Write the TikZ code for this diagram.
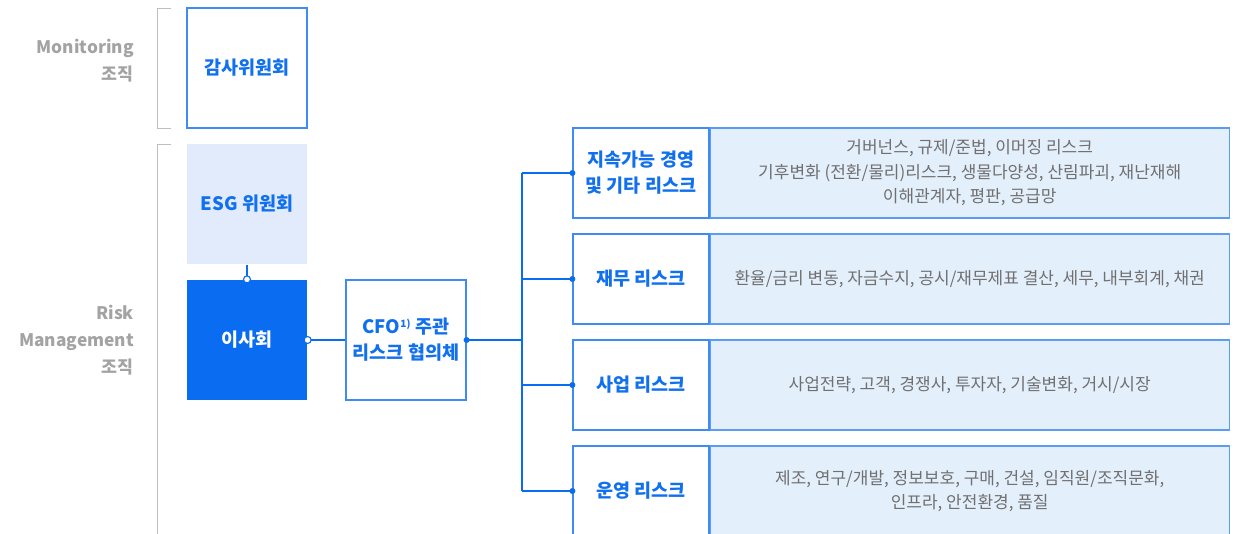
\documentclass[tikz,border=0pt]{standalone}
\usepackage{fontspec}
\setmainfont{Noto Sans CJK KR}
\usetikzlibrary{positioning}

\definecolor{boxline}{HTML}{3F8BF5}
\definecolor{titleblue}{HTML}{1170EE}
\definecolor{boardblue}{HTML}{0A6CF0}
\definecolor{esgfill}{HTML}{E1EBFC}
\definecolor{descfill}{HTML}{E4EFFC}
\definecolor{descline}{HTML}{5A9BF4}
\definecolor{sidegray}{HTML}{A3A3A3}
\definecolor{descgray}{HTML}{707070}

\tikzset{
  orgbox/.style={minimum width=120, minimum height=120, inner sep=0, line width=1.2pt,
    align=center, text=titleblue, font=\fontsize{18.5}{26}\selectfont\bfseries},
  riskbox/.style={draw=boxline, fill=white, line width=1.2pt, minimum width=136, minimum height=90,
    inner sep=0, align=center, text=titleblue, font=\fontsize{18.5}{26}\selectfont\bfseries},
  descbox/.style={draw=descline, fill=descfill, line width=1.2pt, minimum width=519, minimum height=90,
    inner sep=0, align=center, text=descgray, font=\fontsize{17}{24.5}\selectfont},
  sidelabel/.style={anchor=east, inner sep=0, align=right, text=sidegray, font=\fontsize{17.3}{27}\selectfont\bfseries},
  bracket/.style={draw=sidegray!70, line width=1pt},
  link/.style={draw=boardblue, line width=1.1pt},
  opendot/.style={circle, draw=boardblue, fill=white, line width=1.1pt, inner sep=0, minimum size=7},
  fulldot/.style={circle, fill=boardblue, inner sep=0, minimum size=6}
}

\begin{document}
\begin{tikzpicture}[x=1pt, y=-1pt]
\useasboundingbox (0,0) rectangle (1237,533);

% left side labels and brackets
\node[sidelabel] (monlabel) at (134,61) {Monitoring\\조직};
\node[sidelabel] (risklabel) at (134,340) {Risk\\Management\\조직};
\draw[bracket] (171,8) -- (157,8) -- (157,128) -- (171,128);
\draw[bracket] (171,144) -- (157,144) -- (157,545);

% committees
\node[orgbox, draw=boxline, fill=white] (audit) at (247,68) {감사위원회};
\node[orgbox, fill=esgfill] (esg) at (247,204) {ESG 위원회};
\node[orgbox, fill=boardblue, text=white] (board) at (247,340) {이사회};
\node[orgbox, draw=boxline, fill=white] (cfo) at (406,340) {CFO\textsuperscript{\fontsize{10}{10}\selectfont 1)} 주관\\리스크 협의체};

% risk categories
\node[riskbox] (risk1) at (641,173) {지속가능 경영\\및 기타 리스크};
\node[riskbox] (risk2) at (641,279) {재무 리스크};
\node[riskbox] (risk3) at (641,385) {사업 리스크};
\node[riskbox] (risk4) at (641,491) {운영 리스크};
\node[descbox, right=0pt of risk1] (desc1) {거버넌스, 규제/준법, 이머징 리스크\\기후변화 (전환/물리)리스크, 생물다양성, 산림파괴, 재난재해\\이해관계자, 평판, 공급망};
\node[descbox, right=0pt of risk2] (desc2) {환율/금리 변동, 자금수지, 공시/재무제표 결산, 세무, 내부회계, 채권};
\node[descbox, right=0pt of risk3] (desc3) {사업전략, 고객, 경쟁사, 투자자, 기술변화, 거시/시장};
\node[descbox, right=0pt of risk4] (desc4) {제조, 연구/개발, 정보보호, 구매, 건설, 임직원/조직문화,\\인프라, 안전환경, 품질};

% connectors
\coordinate (split) at (522,340);
\draw[link] (esg.south) -- (board.north);
\draw[link] (board.east) -- (cfo.west);
\draw[link] (cfo.east) -- (split);
\draw[link] (split |- risk1.west) -- (split |- risk4.west);
\draw[link] (split |- risk1.west) -- (risk1.west);
\draw[link] (split |- risk2.west) -- (risk2.west);
\draw[link] (split |- risk3.west) -- (risk3.west);
\draw[link] (split |- risk4.west) -- (risk4.west);
\node[opendot] (dotesg) at (board.north) {};
\node[opendot] (dotboard) at (board.east) {};
\node[fulldot] (dotcfo) at (cfo.east) {};
\node[fulldot] (dot1) at (risk1.west) {};
\node[fulldot] (dot2) at (risk2.west) {};
\node[fulldot] (dot3) at (risk3.west) {};
\node[fulldot] (dot4) at (risk4.west) {};

\end{tikzpicture}
\end{document}
